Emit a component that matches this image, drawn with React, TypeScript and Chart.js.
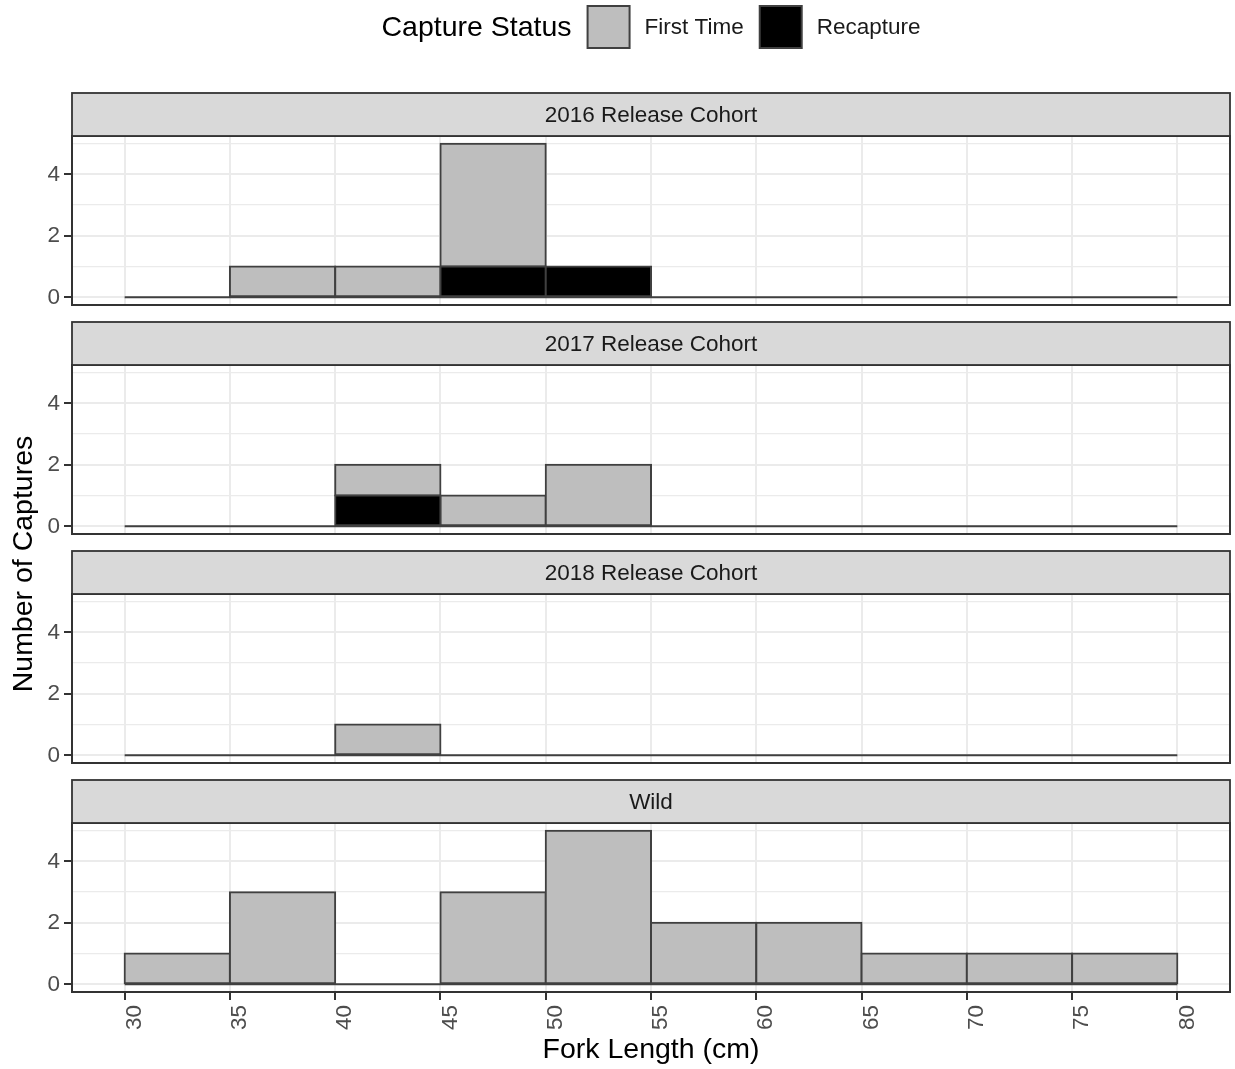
import { useEffect, useRef } from 'react';
import { Chart, registerables } from 'chart.js';

Chart.register(...registerables);

// Histogram bins (cm) and axis ticks
const BIN_STARTS = [30, 35, 40, 45, 50, 55, 60, 65, 70, 75];
const BIN_WIDTH = 5;
const X_TICKS = [30, 35, 40, 45, 50, 55, 60, 65, 70, 75, 80];
const X_LIMITS = [27.5, 82.5];
const Y_TICKS = [0, 2, 4];
const Y_MINOR = [1, 3, 5];
const Y_LIMITS = [-0.25, 5.25];

// Facets
const PANELS = ['2016 Release Cohort', '2017 Release Cohort', '2018 Release Cohort', 'Wild'];

// Counts per bin, by capture status
const FIRST_TIME_2016 = [0, 1, 1, 4, 0, 0, 0, 0, 0, 0];
const RECAPTURE_2016 = [0, 0, 0, 1, 1, 0, 0, 0, 0, 0];
const FIRST_TIME_2017 = [0, 0, 1, 1, 2, 0, 0, 0, 0, 0];
const RECAPTURE_2017 = [0, 0, 1, 0, 0, 0, 0, 0, 0, 0];
const FIRST_TIME_2018 = [0, 0, 1, 0, 0, 0, 0, 0, 0, 0];
const RECAPTURE_2018 = [0, 0, 0, 0, 0, 0, 0, 0, 0, 0];
const FIRST_TIME_WILD = [1, 3, 0, 3, 5, 2, 2, 1, 1, 1];
const RECAPTURE_WILD = [0, 0, 0, 0, 0, 0, 0, 0, 0, 0];

const FIRST_TIME = [FIRST_TIME_2016, FIRST_TIME_2017, FIRST_TIME_2018, FIRST_TIME_WILD];
const RECAPTURE = [RECAPTURE_2016, RECAPTURE_2017, RECAPTURE_2018, RECAPTURE_WILD];

const STATUS_LABELS = ['First Time', 'Recapture'];
const STATUS_COLORS = ['#BEBEBE', '#000000'];

// Page geometry
const W = 1235;
const H = 1069;
const PLOT_LEFT = 72;
const PLOT_RIGHT = 1230;
const FIRST_PLOT_TOP = 136;
const PLOT_H = 169;
const PANEL_STEP = 229;
const STRIP_H = 43;

const FONT = '"Liberation Sans", Arial, Helvetica, sans-serif';
const GRID = '#EBEBEB';
const FRAME = '#333333';
const OUTLINE = '#404040';
const TICK_TEXT = '#4D4D4D';

function binData(counts: number[]) {
  return BIN_STARTS.map((s, i) => ({ x: s + BIN_WIDTH / 2, y: counts[i] ? counts[i] : null }));
}

function makeDecor(k: number) {
  return {
    id: 'facetDecor',
    afterDatasetsDraw(chart: any) {
      const { ctx, chartArea } = chart;
      ctx.save();
      ctx.strokeStyle = FRAME;
      ctx.lineWidth = 2;
      ctx.strokeRect(chartArea.left, chartArea.top, chartArea.right - chartArea.left, chartArea.bottom - chartArea.top);
      ctx.restore();
    },
    afterDraw(chart: any) {
      const { ctx, chartArea } = chart;
      ctx.save();
      // facet strip
      const sTop = chartArea.top - STRIP_H;
      ctx.fillStyle = '#D9D9D9';
      ctx.fillRect(chartArea.left, sTop, chartArea.right - chartArea.left, STRIP_H);
      ctx.strokeStyle = FRAME;
      ctx.lineWidth = 1.8;
      ctx.strokeRect(chartArea.left, sTop, chartArea.right - chartArea.left, STRIP_H);
      ctx.fillStyle = '#1A1A1A';
      ctx.font = `22.5px ${FONT}`;
      ctx.textAlign = 'center';
      ctx.textBaseline = 'middle';
      ctx.fillText(PANELS[k], (chartArea.left + chartArea.right) / 2, sTop + STRIP_H / 2 + 1);

      if (k === 0) {
        // legend
        const cy = 27;
        const box = 42;
        ctx.textAlign = 'left';
        ctx.font = `28.5px ${FONT}`;
        const title = 'Capture Status';
        const titleW = ctx.measureText(title).width;
        ctx.font = `22.5px ${FONT}`;
        const labelWs = STATUS_LABELS.map((l) => ctx.measureText(l).width);
        const total = titleW + STATUS_LABELS.length * (16 + box + 15) + labelWs.reduce((a, b) => a + b, 0);
        let x = (PLOT_LEFT + PLOT_RIGHT) / 2 - total / 2;
        ctx.fillStyle = '#000';
        ctx.font = `28.5px ${FONT}`;
        ctx.fillText(title, x, cy + 1);
        x += titleW;
        ctx.font = `22.5px ${FONT}`;
        STATUS_LABELS.forEach((l, i) => {
          x += 16;
          ctx.fillStyle = STATUS_COLORS[i];
          ctx.fillRect(x, cy - box / 2, box, box);
          ctx.strokeStyle = OUTLINE;
          ctx.lineWidth = 2;
          ctx.strokeRect(x, cy - box / 2, box, box);
          x += box + 15;
          ctx.fillStyle = '#1A1A1A';
          ctx.fillText(l, x, cy + 1);
          x += labelWs[i];
        });

        // shared y-axis title
        const lastTop = FIRST_PLOT_TOP + PANEL_STEP * (PANELS.length - 1);
        const midY = (FIRST_PLOT_TOP + lastTop + PLOT_H) / 2;
        ctx.translate(24, midY);
        ctx.rotate(-Math.PI / 2);
        ctx.textAlign = 'center';
        ctx.fillStyle = '#000';
        ctx.font = `28.5px ${FONT}`;
        ctx.fillText('Number of Captures', 0, 0);
      }
      ctx.restore();
    },
  };
}

function buildConfig(k: number): any {
  const isLast = k === PANELS.length - 1;
  const top = FIRST_PLOT_TOP + PANEL_STEP * k;
  const bottom = top + PLOT_H;
  const barCommon = {
    type: 'bar',
    borderColor: OUTLINE,
    borderWidth: 2,
    borderSkipped: false,
    inflateAmount: 1,
    barPercentage: 1,
    categoryPercentage: 1,
  };
  return {
    type: 'bar',
    data: {
      datasets: [
        { ...barCommon, label: STATUS_LABELS[1], data: binData(RECAPTURE[k]), backgroundColor: STATUS_COLORS[1] },
        { ...barCommon, label: STATUS_LABELS[0], data: binData(FIRST_TIME[k]), backgroundColor: STATUS_COLORS[0] },
        {
          type: 'line',
          label: 'bins',
          stack: 'baseline',
          data: [
            { x: BIN_STARTS[0], y: 0 },
            { x: BIN_STARTS[BIN_STARTS.length - 1] + BIN_WIDTH, y: 0 },
          ],
          borderColor: OUTLINE,
          borderWidth: 2,
          pointRadius: 0,
          fill: false,
        },
      ],
    },
    options: {
      animation: false,
      responsive: false,
      maintainAspectRatio: false,
      events: [],
      layout: {
        padding: { top, left: 0, right: W - PLOT_RIGHT, bottom: isLast ? 0 : H - bottom },
      },
      plugins: {
        legend: { display: false },
        tooltip: { enabled: false },
        title: { display: false },
      },
      scales: {
        x: {
          type: 'linear',
          min: X_LIMITS[0],
          max: X_LIMITS[1],
          stacked: true,
          offset: false,
          afterBuildTicks: (s: any) => {
            s.ticks = X_TICKS.map((value) => ({ value }));
          },
          afterFit: (s: any) => {
            s.height = isLast ? H - bottom : 0;
          },
          grid: {
            color: GRID,
            lineWidth: 2,
            offset: false,
            drawTicks: isLast,
            tickLength: 8,
            tickWidth: 2,
            tickColor: FRAME,
          },
          border: { display: false },
          ticks: {
            display: isLast,
            autoSkip: false,
            minRotation: 90,
            maxRotation: 90,
            labelOffset: 10,
            padding: 5,
            color: TICK_TEXT,
            font: { family: FONT, size: 22.5 },
            callback: (v: any) => String(v),
          },
          title: {
            display: isLast,
            text: 'Fork Length (cm)',
            color: '#000',
            font: { family: FONT, size: 28.5 },
            padding: { top: 2, bottom: 2 },
          },
        },
        y: {
          type: 'linear',
          min: Y_LIMITS[0],
          max: Y_LIMITS[1],
          stacked: true,
          afterBuildTicks: (s: any) => {
            s.ticks = [...Y_TICKS, ...Y_MINOR].sort((a, b) => a - b).map((value) => ({ value }));
          },
          afterFit: (s: any) => {
            s.width = PLOT_LEFT;
          },
          grid: {
            color: GRID,
            lineWidth: (c: any) => (c.tick && Y_TICKS.includes(c.tick.value) ? 2 : 1.3),
            tickLength: 8,
            tickWidth: 2,
            tickColor: (c: any) => (c.tick && Y_TICKS.includes(c.tick.value) ? FRAME : 'rgba(0,0,0,0)'),
          },
          border: { display: false },
          ticks: {
            padding: 4,
            color: TICK_TEXT,
            font: { family: FONT, size: 22.5 },
            callback: (v: any) => (Y_TICKS.includes(v) ? String(v) : ''),
          },
        },
      },
    },
    plugins: [makeDecor(k)],
  };
}

export default function App() {
  const refs = useRef<(HTMLCanvasElement | null)[]>([]);

  useEffect(() => {
    const charts = PANELS.map((_, k) => {
      const canvas = refs.current[k];
      return canvas ? new Chart(canvas, buildConfig(k)) : null;
    });
    return () => {
      charts.forEach((c) => c && c.destroy());
    };
  }, []);

  return (
    <div style={{ position: 'absolute', left: 0, top: 0, width: W, height: H, background: '#fff' }}>
      {PANELS.map((p, k) => (
        <canvas
          key={p}
          ref={(el) => {
            refs.current[k] = el;
          }}
          width={W}
          height={H}
          style={{ position: 'absolute', left: 0, top: 0, width: W, height: H }}
        />
      ))}
    </div>
  );
}
